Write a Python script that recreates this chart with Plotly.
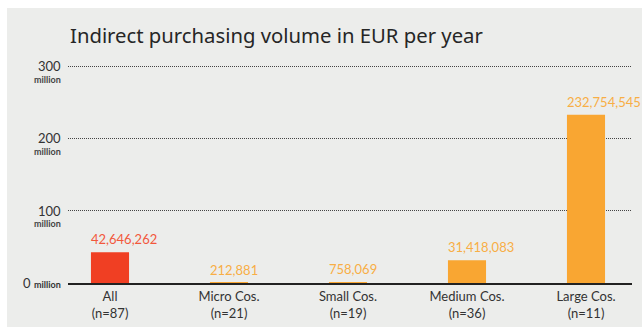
import plotly.graph_objects as go

# Indirect purchasing volume (EUR per year) by company size
categories = ["All", "Micro Cos.", "Small Cos.", "Medium Cos.", "Large Cos."]
sample_sizes = [87, 21, 19, 36, 11]
volumes_eur = [42646262, 212881, 758069, 31418083, 232754545]
bar_colors = ["#F03F23", "#F9A632", "#F9A632", "#F9A632", "#F9A632"]
label_colors = ["#F2583C", "#F8AE45", "#F8AE45", "#F8AE45", "#F8AE45"]
y_ticks = [0, 100, 200, 300]

W, H = 642, 327
ML, MR, MT, MB = 68, 10, 60, 44
plot_w = W - ML - MR
plot_h = H - MT - MB

volumes_m = [v / 1e6 for v in volumes_eur]
xs = list(range(len(categories)))
bar_w = 0.32

fig = go.Figure(
    go.Bar(
        x=xs,
        y=volumes_m,
        width=bar_w,
        marker=dict(color=bar_colors, line=dict(width=0)),
        hoverinfo="skip",
    )
)

# grey panel behind the whole chart
def px_x(p):
    return (p - ML) / plot_w

def px_y(p):
    return (H - MB - p) / plot_h

fig.add_shape(
    type="rect", xref="paper", yref="paper",
    x0=px_x(7), x1=px_x(W + 2), y0=px_y(H + 2), y1=px_y(8),
    fillcolor="#ECEDEB", line=dict(width=0), layer="below",
)

annotations = []
# title
annotations.append(dict(
    text="Indirect purchasing volume in EUR per year",
    xref="paper", yref="paper", x=0, y=px_y(35),
    xanchor="left", yanchor="middle", showarrow=False,
    font=dict(family="Noto Sans", size=20.3, color="#262626"),
))

# y tick labels with unit underneath
for t in y_ticks:
    if t == 0:
        annotations.append(dict(
            text="0 <span style='font-size:9px'><b>million</b></span>",
            xref="paper", yref="y", x=0, y=t, xanchor="right", yanchor="middle",
            xshift=-5, showarrow=False,
            font=dict(family="Lato", size=13, color="#333333"),
        ))
    else:
        annotations.append(dict(
            text=str(t), xref="paper", yref="y", x=0, y=t,
            xanchor="right", yanchor="middle", xshift=-5, showarrow=False,
            font=dict(family="Lato", size=13, color="#333333"),
        ))
        annotations.append(dict(
            text="<b>million</b>", xref="paper", yref="y", x=0, y=t,
            xanchor="right", yanchor="middle", xshift=-5, yshift=-13,
            showarrow=False,
            font=dict(family="Lato", size=9, color="#444444"),
        ))

# value labels above bars, aligned to the bar's left edge
for x, v, vm, c in zip(xs, volumes_eur, volumes_m, label_colors):
    annotations.append(dict(
        text=f"{v:,}", xref="x", yref="y", x=x - bar_w / 2, y=vm,
        xanchor="left", yanchor="bottom", yshift=3, xshift=-2, showarrow=False,
        font=dict(family="Lato", size=13, color=c),
    ))

px_per_cat = 119
x_left = (ML - 110) / px_per_cat
x_right = x_left + plot_w / px_per_cat

fig.update_layout(
    width=W, height=H,
    margin=dict(l=ML, r=MR, t=MT, b=MB, pad=0, autoexpand=False),
    paper_bgcolor="white",
    plot_bgcolor="rgba(0,0,0,0)",
    showlegend=False,
    annotations=annotations,
    xaxis=dict(
        range=[x_left, x_right],
        tickmode="array", tickvals=xs,
        ticktext=[f"{c}<br>(n={n})" for c, n in zip(categories, sample_sizes)],
        tickfont=dict(family="Lato", size=13, color="#333333"),
        ticks="", ticklabelstandoff=0, showgrid=False, zeroline=False,
        showline=True, linecolor="#222222", linewidth=2,
        automargin=False, fixedrange=True,
    ),
    yaxis=dict(
        range=[0, 300 * (1 + 6 / 217)],
        tickmode="array", tickvals=y_ticks[1:],
        showticklabels=False, ticks="",
        showgrid=True, gridcolor="#444444", gridwidth=1, griddash="1px,1px",
        zeroline=False, automargin=False, fixedrange=True,
    ),
)

fig.write_html("out.html")
